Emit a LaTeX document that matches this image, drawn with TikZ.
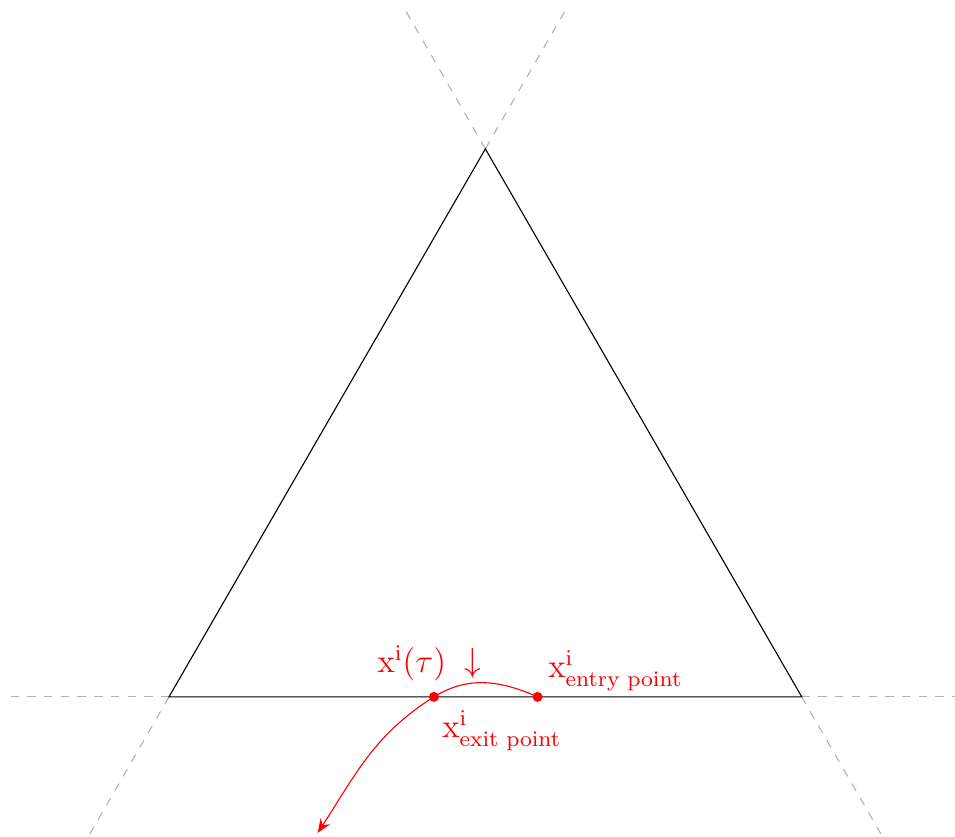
\documentclass[tikz,border=0pt]{standalone}
\usepackage{amsmath}
\usetikzlibrary{arrows.meta}
\begin{document}
\begin{tikzpicture}[
  ext/.style={dashed, gray!60},
  tri/.style={black, line width=0.4pt},
  traj/.style={red, line width=0.4pt},
  dot/.style={circle, fill=red, inner sep=0pt, minimum size=3.6pt},
  lbl/.style={red, font=\large, inner sep=2pt}
]
\useasboundingbox (-2.136,-1.77) rectangle (9.937,8.81);
\coordinate (A) at (0,0);
\coordinate (B) at (8,0);
\coordinate (C) at (4,6.928);
% extensions
\draw[ext] (-2,0) -- (A);
\draw[ext] (B) -- (10,0);
\draw[ext] (A) -- (-1,-1.732);
\draw[ext] (B) -- (9,-1.732);
\draw[ext] (C) -- (3,8.66);
\draw[ext] (C) -- (5,8.66);
% triangle
\draw[tri] (A) -- (B) -- (C) -- cycle;
% trajectory
\node[dot] (en) at (4.66,0) {};
\node[dot] (ex) at (3.35,0) {};
\coordinate (tip) at (1.88,-1.72);
\draw[traj, -{Stealth[length=5pt,width=4pt]}] (en.center) to[out=156,in=32] (ex.center) to[out=212,in=57] (tip);
% labels
\node[lbl, anchor=south west] (lentry) at (4.72,0.0) {$\mathrm{x}^{\mathrm{i}}_{\text{entry point}}$};
\node[lbl, anchor=north west] (lexit) at (3.38,-0.1) {$\mathrm{x}^{\mathrm{i}}_{\text{exit point}}$};
\node[lbl] (ltau) at (3.07,0.43) {$\mathrm{x}^{\mathrm{i}}(\tau)$};
\node[lbl] (ldown) at (3.84,0.43) {$\downarrow$};
\end{tikzpicture}
\end{document}
